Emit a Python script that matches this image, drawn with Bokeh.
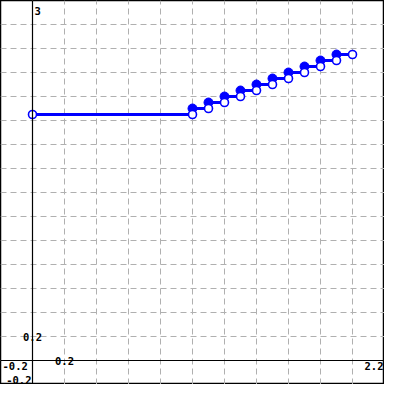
from bokeh.plotting import figure
from bokeh.models import Grid, FixedTicker, Span, Label
from bokeh.embed import file_html
from bokeh.resources import INLINE

# data
seg_x0 = [0.0, 1.0, 1.1, 1.2, 1.3, 1.4, 1.5, 1.6, 1.7, 1.8, 1.9]
seg_x1 = [1.0, 1.1, 1.2, 1.3, 1.4, 1.5, 1.6, 1.7, 1.8, 1.9, 2.0]
seg_y = [2.05, 2.10, 2.15, 2.20, 2.25, 2.30, 2.35, 2.40, 2.45, 2.50, 2.55]
filled_x = [1.0, 1.1, 1.2, 1.3, 1.4, 1.5, 1.6, 1.7, 1.8, 1.9]
filled_y = [2.10, 2.15, 2.20, 2.25, 2.30, 2.35, 2.40, 2.45, 2.50, 2.55]
open_x = [0.0, 1.0, 1.1, 1.2, 1.3, 1.4, 1.5, 1.6, 1.7, 1.8, 1.9, 2.0]
open_y = [2.05, 2.05, 2.10, 2.15, 2.20, 2.25, 2.30, 2.35, 2.40, 2.45, 2.50, 2.55]
x_grid_ticks = [-0.2, 0.0, 0.2, 0.4, 0.6, 0.8, 1.0, 1.2, 1.4, 1.6, 1.8, 2.0, 2.2]
y_grid_ticks = [-0.2, 0.0, 0.2, 0.4, 0.6, 0.8, 1.0, 1.2, 1.4, 1.6, 1.8, 2.0, 2.2, 2.4, 2.6, 2.8, 3.0]
x_min, x_max = -0.2, 2.2
y_min, y_max = -0.2, 3.0

p = figure(width=384, height=384, x_range=(x_min, x_max), y_range=(y_min, y_max),
           output_backend="svg", toolbar_location=None,
           x_axis_type=None, y_axis_type=None, min_border=0)
p.outline_line_color = "black"
p.outline_line_width = 1.5
p.background_fill_color = "white"
p.border_fill_color = "white"

for dim, ticks in ((0, x_grid_ticks), (1, y_grid_ticks)):
    g = Grid(dimension=dim, ticker=FixedTicker(ticks=ticks),
             grid_line_color="#b0b0b0", grid_line_dash="6 4", grid_line_width=1)
    p.add_layout(g)

p.add_layout(Span(location=0, dimension="height", line_color="black", line_width=1.2))
p.add_layout(Span(location=0, dimension="width", line_color="black", line_width=1.2))

p.segment(x0=seg_x0, y0=seg_y, x1=seg_x1, y1=seg_y, line_color="#0000ff", line_width=3)
p.scatter(filled_x, filled_y, size=9, marker="circle", fill_color="#0000ff", line_color="#0000ff")
p.scatter(open_x, open_y, size=8, marker="circle", fill_color="white", line_color="#0000ff", line_width=1.6)

font = "DejaVu Sans Mono"
def lab(x, y, t, align, base, xo=0, yo=0):
    p.add_layout(Label(x=x, y=y, text=t, text_align=align, text_baseline=base,
                       x_offset=xo, y_offset=yo, text_font=font, text_font_size="10.5px",
                       text_font_style="bold", text_color="black"))

lab(0, y_max, "3", "left", "alphabetic", 2, -10)
lab(x_min, 0, "-0.2", "left", "top", 2, -1)
lab(0, y_min, "-0.2", "right", "bottom", -1, 1)
lab(0, 0.2, "0.2", "center", "middle", 0, 0)
lab(0.2, 0, "0.2", "center", "middle", 0, 0)
lab(x_max, 0, "2.2", "right", "top", -1, -1)

open("out.html", "w").write(file_html(p, INLINE))
